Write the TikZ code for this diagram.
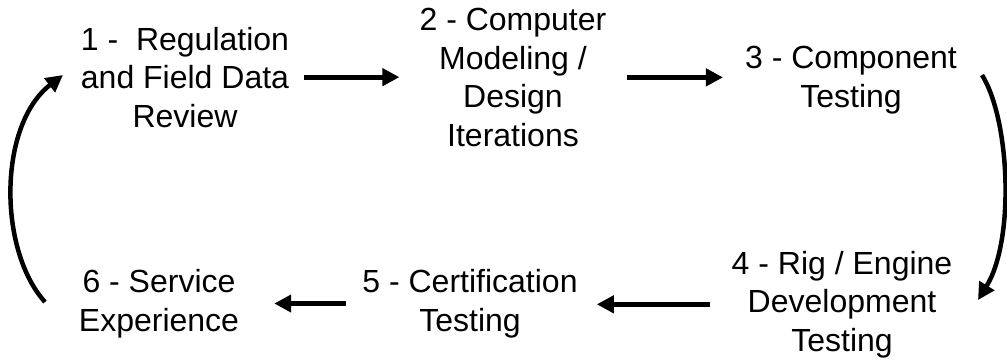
\documentclass[tikz,border=0pt]{standalone}
\usepackage{fontspec}
\setmainfont{Liberation Sans}
\usetikzlibrary{arrows.meta,calc}
\begin{document}
\begin{tikzpicture}[x=1pt,y=-1pt,
  lbl/.style={align=center,inner sep=0pt,anchor=base,font={\fontsize{32}{38.4}\selectfont}},
  arr/.style={line width=5pt,-{Triangle[length=17pt,width=17pt]}},
  carr/.style={line width=4.5pt,-{Triangle[length=17pt,width=17pt]}}]
\useasboundingbox (0,0) rectangle (1007,362);
\node[lbl] (n1) at (185,127) {1 - \ Regulation\\and Field Data\\Review};
\node[lbl] (n2) at (513,146) {2 - Computer\\Modeling /\\Design\\Iterations};
\node[lbl] (n3) at (851,107) {3 - Component\\Testing};
\node[lbl] (n4) at (842,351) {4 - Rig / Engine\\Development\\Testing};
\node[lbl] (n5) at (470,331) {5 - Certification\\Testing};
\node[lbl] (n6) at (159,331) {6 - Service\\Experience};
\coordinate (c3) at (982,75);
\coordinate (c4) at (978,300);
\coordinate (c6) at (45,302);
\coordinate (c1) at (63,75);
\draw[arr] ($(n1.east)+(15,0)$) -- ($(n1.east -| n2.west)+(-20,0)$);
\draw[arr] ($(n2.east)+(20,0)$) -- ($(n2.east -| n3.west)+(-22,0)$);
\draw[arr] ($(n4.west)+(-22,0)$) -- ($(n4.west -| n5.east)+(19,0)$);
\draw[arr] ($(n5.west)+(-16,0)$) -- ($(n5.west -| n6.east)+(35,0)$);
\draw[carr] (c3) .. controls (1010,120) and (1015,240) .. (c4);
\draw[carr] (c6) .. controls (-2,250) and (-2,125) .. (c1);
\end{tikzpicture}
\end{document}
